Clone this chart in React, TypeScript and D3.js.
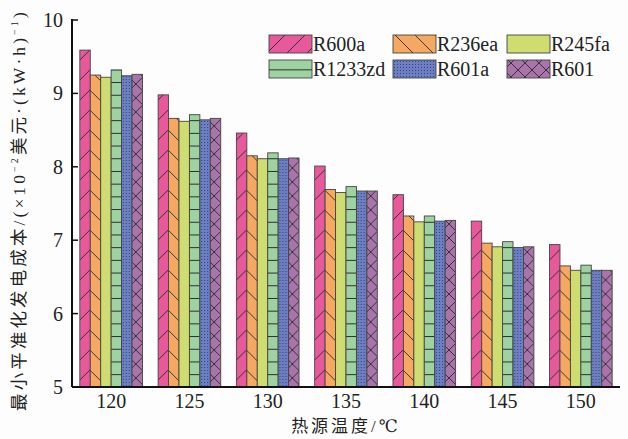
import React from "react";
import * as d3 from "d3";

const categories = ["120", "125", "130", "135", "140", "145", "150"];
const seriesNames = ["R600a", "R236ea", "R245fa", "R1233zd", "R601a", "R601"];
const R600a = [9.59, 8.98, 8.46, 8.01, 7.62, 7.26, 6.94];
const R236ea = [9.25, 8.66, 8.15, 7.69, 7.33, 6.96, 6.65];
const R245fa = [9.22, 8.62, 8.11, 7.65, 7.25, 6.91, 6.59];
const R1233zd = [9.32, 8.71, 8.19, 7.73, 7.33, 6.98, 6.66];
const R601a = [9.24, 8.64, 8.11, 7.67, 7.26, 6.9, 6.59];
const R601 = [9.26, 8.66, 8.12, 7.67, 7.27, 6.91, 6.59];
const seriesValues = [R600a, R236ea, R245fa, R1233zd, R601a, R601];
const yTicks = [5, 6, 7, 8, 9, 10];

const colors = ["#e8599b", "#f4a862", "#cfdc6f", "#9ed3a1", "#6b7fc2", "#a874aa"];
const patternIds = ["p0", "p1", "p2", "p3", "p4", "p5"];

const W = 628;
const H = 439;
const left = 72;
const right = 620;
const top = 20;
const bottom = 387;
const serif = "Times New Roman, Liberation Serif, DejaVu Serif, Noto Sans CJK SC, serif";
const lineC = "#2a2a2a";

export default function App() {
  const x0 = d3.scaleBand<string>().domain(categories).range([left, right]).paddingInner(0.2).paddingOuter(0.1);
  const x1 = d3.scaleBand<string>().domain(seriesNames).range([0, x0.bandwidth()]).padding(0);
  const y = d3.scaleLinear().domain([5, 10]).range([bottom, top]);

  const legendCols = [269, 393, 507];
  const legendRows = [35, 60];

  return (
    <svg width={W} height={H} style={{ position: "absolute", left: 0, top: 0, background: "#fdfdfd" }}>
      <defs>
        <pattern id="p0" patternUnits="userSpaceOnUse" width={20} height={20}>
          <rect width={20} height={20} fill={colors[0]} />
          <path d="M0,20 L20,0 M-5,5 L5,-5 M15,25 L25,15" stroke={lineC} strokeWidth={0.9} />
        </pattern>
        <pattern id="p1" patternUnits="userSpaceOnUse" width={20} height={20}>
          <rect width={20} height={20} fill={colors[1]} />
          <path d="M0,0 L20,20 M-5,15 L5,25 M15,-5 L25,5" stroke={lineC} strokeWidth={0.9} />
        </pattern>
        <pattern id="p2" patternUnits="userSpaceOnUse" width={10} height={10}>
          <rect width={10} height={10} fill={colors[2]} />
        </pattern>
        <pattern id="p3" patternUnits="userSpaceOnUse" width={10} height={12.7}>
          <rect width={10} height={12.7} fill={colors[3]} />
          <path d="M0,6.35 L10,6.35" stroke={lineC} strokeWidth={1} />
        </pattern>
        <pattern id="p4" patternUnits="userSpaceOnUse" width={3} height={3}>
          <rect width={3} height={3} fill={colors[4]} />
          <rect x={1} y={1} width={0.9} height={0.9} fill="#2d3566" />
        </pattern>
        <pattern id="p5" patternUnits="userSpaceOnUse" width={14} height={14}>
          <rect width={14} height={14} fill={colors[5]} />
          <path d="M0,0 L14,14 M14,0 L0,14" stroke={lineC} strokeWidth={0.9} />
        </pattern>
      </defs>

      {categories.map((c, ci) => (
        <g key={c} transform={`translate(${x0(c)},0)`}>
          {seriesNames.map((s, si) => {
            const v = seriesValues[si][ci];
            const bx = x1(s) as number;
            return (
              <rect
                key={s}
                x={bx}
                y={y(v)}
                width={x1.bandwidth()}
                height={y(5) - y(v)}
                fill={`url(#${patternIds[si]})`}
                stroke="#444"
                strokeWidth={0.9}
              />
            );
          })}
        </g>
      ))}

      {/* axes */}
      <line x1={left} x2={left} y1={top - 1} y2={bottom} stroke="#111" strokeWidth={2} />
      <line x1={left} x2={right} y1={bottom} y2={bottom} stroke="#111" strokeWidth={2} />
      {yTicks.map((t) => (
        <g key={t}>
          <line x1={left} x2={left + 6} y1={y(t)} y2={y(t)} stroke="#111" strokeWidth={1.5} />
          <text x={left - 9} y={y(t)} dy="0.35em" textAnchor="end" fontFamily={serif} fontSize={20} fill="#222">
            {t}
          </text>
        </g>
      ))}
      {categories.map((c) => (
        <text
          key={c}
          x={(x0(c) as number) + x0.bandwidth() / 2}
          y={408}
          textAnchor="middle"
          fontFamily={serif}
          fontSize={20}
          fill="#222"
        >
          {c}
        </text>
      ))}

      <text x={346} y={432} textAnchor="middle" fontFamily={serif} fontSize={17} letterSpacing={3} fill="#222">
        热源温度/℃
      </text>

      <text
        transform={`translate(25,210) rotate(-90)`}
        textAnchor="middle"
        fontFamily={serif}
        fontSize={17.5}
        letterSpacing={3.1}
        fill="#222"
      >
        最小平准化发电成本/(×10
        <tspan fontSize={10} dy={-7}>−2</tspan>
        <tspan dy={7}>美元·(kW·h)</tspan>
        <tspan fontSize={10} dy={-7}>−1</tspan>
        <tspan dy={7}>)</tspan>
      </text>

      {/* legend */}
      {seriesNames.map((s, i) => {
        const lx = legendCols[i % 3];
        const ly = legendRows[Math.floor(i / 3)];
        return (
          <g key={s}>
            <rect x={lx} y={ly} width={43} height={18} fill={`url(#${patternIds[i]})`} stroke="#444" strokeWidth={0.9} />
            <text x={lx + 44} y={ly + 16} fontFamily={serif} fontSize={20} fill="#222">
              {s}
            </text>
          </g>
        );
      })}
    </svg>
  );
}
